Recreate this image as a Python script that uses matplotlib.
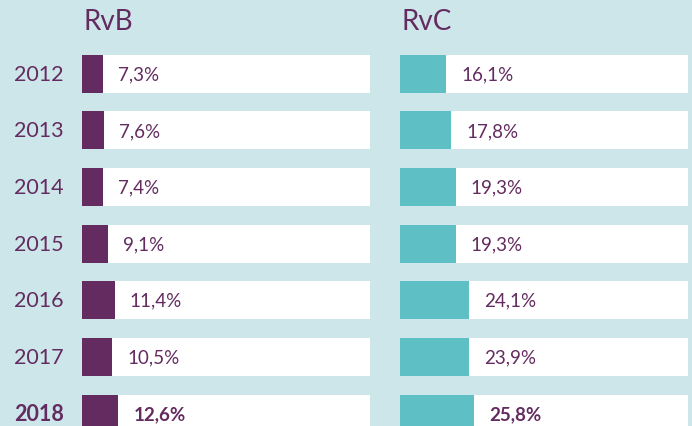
import matplotlib.pyplot as plt
from matplotlib.transforms import blended_transform_factory

years = ['2012', '2013', '2014', '2015', '2016', '2017', '2018']
rvb = [7.3, 7.6, 7.4, 9.1, 11.4, 10.5, 12.6]
rvc = [16.1, 17.8, 19.3, 19.3, 24.1, 23.9, 25.8]
titles = ['RvB', 'RvC']

bg = '#cde6ea'
purple = '#632b60'
teal = '#5ec0c5'
text_col = '#632b60'

plt.rcParams['font.family'] = ['Lato', 'DejaVu Sans']

fig = plt.figure(figsize=(6.92, 4.27), dpi=100)
fig.patch.set_facecolor(bg)

# axes placed so rows sit where they are in the original
ax_l = fig.add_axes([82 / 692, 0, 288 / 692, 1 - 46.5 / 427])
ax_r = fig.add_axes([400 / 692, 0, 288 / 692, 1 - 46.5 / 427])

for ax, vals, col, title in [(ax_l, rvb, purple, titles[0]), (ax_r, rvc, teal, titles[1])]:
    ax.set_facecolor('none')
    pos = list(range(len(years)))
    ax.barh(pos, [100] * len(years), height=0.67, color='white')
    ax.barh(pos, vals, height=0.67, color=col)
    for i, v in enumerate(vals):
        bold = years[i] == '2018'
        ax.annotate(f'{v:.1f}%'.replace('.', ','), (v, i), xytext=(15, 0),
                    textcoords='offset pixels', va='center', ha='left',
                    fontsize=13.5, color=text_col,
                    fontweight='bold' if bold else 'normal')
    ax.set_xlim(0, 100)
    ax.set_ylim((427 - 74.5) / 56.67, -0.5)
    ax.axis('off')
    x0 = ax.get_position().x0
    fig.text(x0 + 1 / 692, 1 - 22 / 427, title, fontsize=20, color=text_col,
             va='center', ha='left')

# year labels
tr = blended_transform_factory(fig.transFigure, ax_l.transData)
for i, y in enumerate(years):
    ax_l.text(14 / 692, i, y, transform=tr, va='center', ha='left',
              fontsize=15.5, color=text_col,
              fontweight='bold' if y == '2018' else 'normal')

fig.savefig('out.png', dpi=100, facecolor=bg)
